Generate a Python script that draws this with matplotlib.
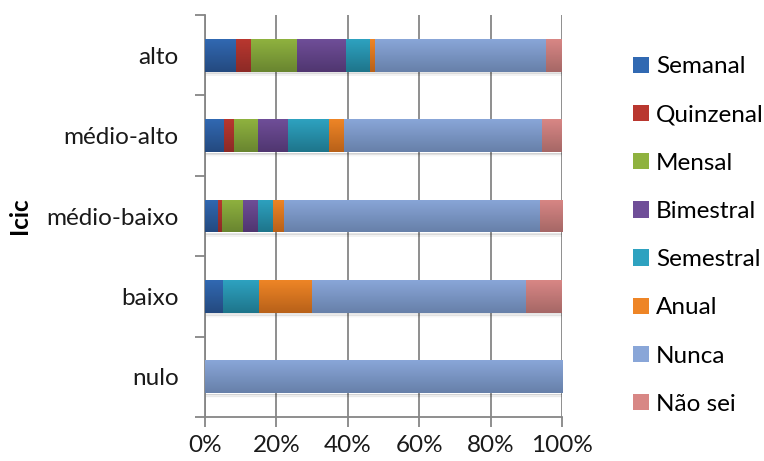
import numpy as np
import matplotlib
matplotlib.use("Agg")
import matplotlib.pyplot as plt
from matplotlib.colors import LinearSegmentedColormap

# ---- data ----
categories = ["alto", "médio-alto", "médio-baixo", "baixo", "nulo"]
series_names = ["Semanal", "Quinzenal", "Mensal", "Bimestral", "Semestral", "Anual", "Nunca", "Não sei"]
semanal   = [8.6, 5.3, 3.7, 5.0, 0.0]
quinzenal = [4.3, 2.8, 1.1, 0.0, 0.0]
mensal    = [12.9, 6.8, 5.9, 0.0, 0.0]
bimestral = [13.8, 8.4, 4.2, 0.0, 0.0]
semestral = [6.5, 11.3, 4.2, 10.0, 0.0]
anual     = [1.4, 4.4, 3.1, 15.0, 0.0]
nunca     = [48.1, 55.5, 71.6, 60.0, 100.0]
nao_sei   = [4.4, 5.5, 6.2, 10.0, 0.0]
x_ticks = [0, 20, 40, 60, 80, 100]
x_ticklabels = ["0%", "20%", "40%", "60%", "80%", "100%"]
y_label = "Icic"

series_values = [semanal, quinzenal, mensal, bimestral, semestral, anual, nunca, nao_sei]
top_colors = ["#3169B2", "#B9372F", "#8FB23F", "#6F4E98", "#2EA2C0", "#EE8526", "#89A6D8", "#D88785"]
bot_colors = ["#24497F", "#8C2A26", "#698530", "#503670", "#1E758B", "#B86119", "#6780A9", "#A66766"]

FS = 17.5
plt.rcParams['font.family'] = ['Lato', 'DejaVu Sans']
fig = plt.figure(figsize=(7.64, 4.61), dpi=100)
ax = fig.add_axes([0.2683, 0.0954, 0.7356 - 0.2683, 0.9675 - 0.0954])

y = np.arange(len(categories))
left = np.zeros(len(categories))
bar_h = 0.41
handles = []
for name, vals, tc, bc in zip(series_names, series_values, top_colors, bot_colors):
    vals = np.array(vals, dtype=float)
    bars = ax.barh(y, vals, left=left, height=bar_h, color=tc, label=name, zorder=3, linewidth=0)
    cmap = LinearSegmentedColormap.from_list(name, [tc, bc])
    grad = np.linspace(0, 1, 64).reshape(-1, 1)
    for p in bars.patches:
        if p.get_width() <= 0:
            continue
        x0 = p.get_x(); x1 = x0 + p.get_width()
        y0 = p.get_y(); y1 = y0 + p.get_height()
        im = ax.imshow(grad, cmap=cmap, aspect='auto', extent=(x0, x1, y1, y0),
                       origin='upper', zorder=4, interpolation='bilinear')
        im.set_clip_path(p)
    handles.append(bars)
    left += vals

# soft shadow under each row
for yi, tot in zip(y, left):
    for k in range(6):
        ax.barh(yi + bar_h / 2 + 0.012 + k * 0.008, tot, height=0.012, left=0,
                color="#000000", alpha=0.10 * (1 - k / 6), zorder=2, linewidth=0)

ax.set_xlim(0, 100)
ax.set_ylim(len(categories) - 0.5, -0.5)

ax.set_xticks(x_ticks)
ax.set_xticklabels(x_ticklabels)
ax.set_yticks(y)
ax.set_yticklabels(categories)
ax.set_yticks(np.arange(-0.5, len(categories)), minor=True)
ax.tick_params(axis='y', which='major', length=0, pad=19, labelsize=FS, colors='#1a1a1a')
ax.tick_params(axis='y', which='minor', length=7, width=1.3, color='#868686')
ax.tick_params(axis='x', which='major', length=7, width=1.3, color='#868686', labelsize=FS,
               labelcolor='#1a1a1a', pad=6)
ax.xaxis.grid(True, color='#868686', linewidth=1.3, zorder=0)
ax.set_axisbelow(True)
for s in ['top', 'right']:
    ax.spines[s].set_visible(False)
for s in ['left', 'bottom']:
    ax.spines[s].set_color('#868686')
    ax.spines[s].set_linewidth(1.3)

ax.set_ylabel(y_label, fontsize=FS, fontweight='bold')
ax.yaxis.set_label_coords(-0.487, 0.5, transform=ax.transAxes)

leg = fig.legend(handles=handles, labels=series_names, loc='upper left',
                 bbox_to_anchor=(0.828, 0.878), frameon=False, fontsize=FS,
                 handlelength=0.66, handleheight=0.66, handletextpad=0.3,
                 labelspacing=1.12, borderaxespad=0, borderpad=0)

fig.savefig("out.png", dpi=100)
